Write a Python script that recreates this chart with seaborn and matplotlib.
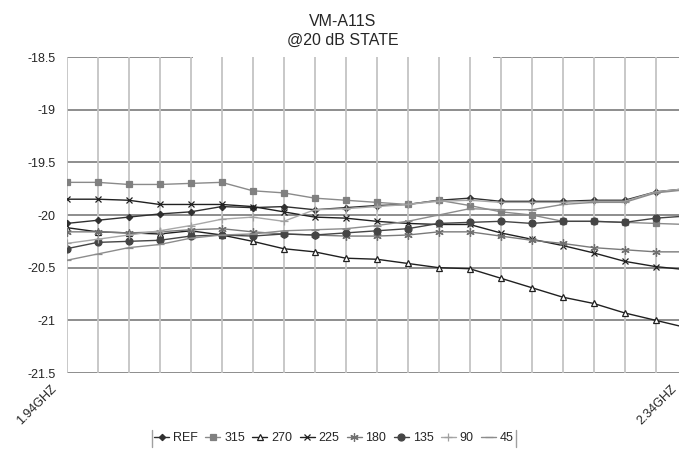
import numpy as np
import pandas as pd
import matplotlib
matplotlib.use("Agg")
import matplotlib.pyplot as plt
import matplotlib.transforms as mtransforms
import seaborn as sns
from matplotlib.lines import Line2D
from matplotlib.patches import Rectangle

# ---------------- data ----------------
freqs = ["1.94GHZ", "1.96GHZ", "1.98GHZ", "2.00GHZ", "2.02GHZ", "2.04GHZ", "2.06GHZ",
         "2.08GHZ", "2.10GHZ", "2.12GHZ", "2.14GHZ", "2.16GHZ", "2.18GHZ", "2.20GHZ",
         "2.22GHZ", "2.24GHZ", "2.26GHZ", "2.28GHZ", "2.30GHZ", "2.32GHZ", "2.34GHZ"]
shown_labels = ["1.94GHZ", "2.34GHZ"]

ref = [-20.08, -20.05, -20.02, -19.99, -19.97, -19.92, -19.93, -19.92, -19.95, -19.93, -19.91,
       -19.90, -19.86, -19.84, -19.87, -19.87, -19.87, -19.86, -19.86, -19.78, -19.75]
s315 = [-19.69, -19.69, -19.71, -19.71, -19.70, -19.69, -19.77, -19.79, -19.84, -19.86, -19.88,
        -19.90, -19.86, -19.91, -19.97, -20.00, -20.06, -20.06, -20.07, -20.08, -20.09]
s270 = [-20.12, -20.16, -20.17, -20.18, -20.15, -20.19, -20.25, -20.32, -20.35, -20.41, -20.42,
        -20.46, -20.50, -20.51, -20.60, -20.69, -20.78, -20.84, -20.93, -21.00, -21.07]
s225 = [-19.85, -19.85, -19.86, -19.90, -19.90, -19.90, -19.92, -19.97, -20.02, -20.03, -20.06,
        -20.08, -20.09, -20.09, -20.17, -20.23, -20.29, -20.36, -20.44, -20.49, -20.52]
s180 = [-20.16, -20.16, -20.17, -20.16, -20.14, -20.13, -20.16, -20.18, -20.19, -20.20, -20.20,
        -20.19, -20.16, -20.16, -20.20, -20.24, -20.27, -20.31, -20.33, -20.35, -20.35]
s135 = [-20.32, -20.26, -20.25, -20.24, -20.20, -20.19, -20.20, -20.18, -20.19, -20.17, -20.15,
        -20.13, -20.08, -20.07, -20.06, -20.08, -20.06, -20.06, -20.07, -20.03, -20.01]
s90 = [-20.27, -20.23, -20.19, -20.15, -20.10, -20.04, -20.02, -20.06, -19.95, -19.94, -19.92,
       -19.90, -19.87, -19.86, -19.88, -19.88, -19.88, -19.87, -19.87, -19.78, -19.75]
s45 = [-20.43, -20.37, -20.31, -20.28, -20.22, -20.19, -20.18, -20.15, -20.14, -20.13, -20.10,
       -20.06, -20.00, -19.94, -19.95, -19.95, -19.90, -19.88, -19.88, -19.79, -19.76]

series_names = ["REF", "315", "270", "225", "180", "135", "90", "45"]
series_values = [ref, s315, s270, s225, s180, s135, s90, s45]

y_ticks = [-21.5, -21, -20.5, -20, -19.5, -19, -18.5]
y_tick_labels = ["-21.5", "-21", "-20.5", "-20", "-19.5", "-19", "-18.5"]

# ---------------- styles ----------------
styles = {
    "REF": dict(color="#303030", marker="D", markersize=3.2, mfc="#303030", mec="#303030"),
    "315": dict(color="#8a8a8a", marker="s", markersize=5, mfc="#808080", mec="#808080"),
    "270": dict(color="#202020", marker="^", markersize=5, mfc="white", mec="#202020"),
    "225": dict(color="#202020", marker="x", markersize=5, mfc="#202020", mec="#202020"),
    "180": dict(color="#7a7a7a", marker=(6, 2, 0), markersize=6, mfc="#707070", mec="#707070"),
    "135": dict(color="#454545", marker="o", markersize=5, mfc="#454545", mec="#454545"),
    "90": dict(color="#a8a8a8", marker="+", markersize=6, mfc="#a0a0a0", mec="#a0a0a0"),
    "45": dict(color="#8c8c8c", marker="_", markersize=6, mfc="#8c8c8c", mec="#8c8c8c"),
}

sns.set_theme(style="white")
plt.rcParams["font.family"] = ["Liberation Sans", "DejaVu Sans"]

W, H = 679, 470
fig = plt.figure(figsize=(W / 100, H / 100), dpi=100)
ax_left, ax_right, ax_top, ax_bottom = 66.7, 686.7, 57.0, 373.0
ax = fig.add_axes([ax_left / W, (H - ax_bottom) / H, (ax_right - ax_left) / W, (ax_bottom - ax_top) / H])

for name, vals in zip(series_names, series_values):
    st = styles[name]
    sns.lineplot(x=np.arange(len(freqs)), y=vals, ax=ax, color=st["color"], linewidth=1.0,
                 marker=st["marker"], markersize=st["markersize"],
                 markerfacecolor=st["mfc"], markeredgecolor=st["mec"], markeredgewidth=0.9,
                 label=name, zorder=3, clip_on=True)

ax.set_xlim(0, len(freqs) - 1)
ax.set_ylim(-21.5, -18.5)
ax.set_xticks(np.arange(len(freqs)))
ax.set_xticklabels([])
ax.set_yticks(y_ticks)
ax.set_yticklabels(y_tick_labels, fontsize=9)
ax.tick_params(axis="x", length=0)
ax.tick_params(axis="y", length=5, width=1, color="#808080", pad=3)
ax.set_xlabel("")
ax.set_ylabel("")

# category labels (first and last only), rotated like the original
offset = mtransforms.ScaledTranslation(-16 / 100, -10 / 100, fig.dpi_scale_trans)
for i, f in enumerate(freqs):
    if f in shown_labels:
        ax.text(i, 0, f, transform=ax.get_xaxis_transform() + offset, rotation=45,
                rotation_mode="anchor", ha="right", va="top", fontsize=9, clip_on=False)

for sp in ax.spines.values():
    sp.set_visible(False)
ax.grid(False)
for i in range(len(freqs)):
    ax.axvline(i, color="#c4c4c4", linewidth=1.3, zorder=1.8)
for yv in y_ticks:
    ax.axhline(yv, color="#7a7a7a", linewidth=1.2, zorder=1.5)

title_x = 343
fig.text(title_x / W, 1 - 31 / H, "VM-A11S\n@20 dB STATE", ha="center", va="center",
         fontsize=11.5, linespacing=1.25)
# the title's white box hides part of the top gridline
gap_w = 300
ax.add_patch(Rectangle(((title_x - gap_w / 2) / W, 1 - 59 / H), gap_w / W, 4 / H,
                       transform=fig.transFigure, facecolor="white", edgecolor="none",
                       zorder=1.7, clip_on=False))

# legend
ax.get_legend().remove()
handles, labels = ax.get_legend_handles_labels()
leg = fig.legend(handles, labels, loc="center", bbox_to_anchor=(334 / W, 1 - 438 / H), ncol=8,
                 frameon=False, fontsize=9, handlelength=1.2, handletextpad=0.3,
                 columnspacing=0.6, borderpad=0.2)
fig.canvas.draw()
bb = leg.get_window_extent()
for xx in (bb.x0, bb.x1):
    fig.add_artist(Line2D([xx / W, xx / W], [bb.y0 / H, bb.y1 / H], color="#a0a0a0", linewidth=1.0))

fig.savefig("out.png", dpi=100)
